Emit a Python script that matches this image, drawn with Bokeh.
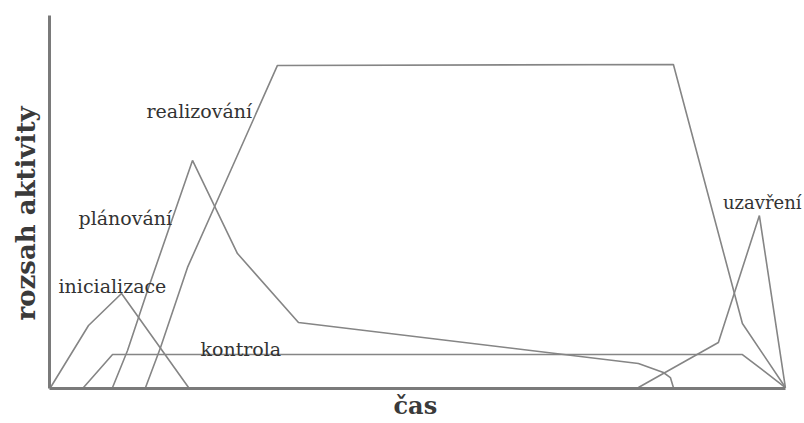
from bokeh.plotting import figure
from bokeh.models import Range1d, FixedTicker, Label, Title
from bokeh.embed import file_html
from bokeh.resources import INLINE

# ---- data (time on x, activity extent on y) ----
init_x = [0, 5.17, 9.66, 18.78]
init_y = [0, 19.25, 29.2, 0]

ctrl_x = [4.49, 8.44, 94.15, 100]
ctrl_y = [0, 10.25, 10.25, 0]

plan_x = [8.44, 10.48, 13.2, 19.32, 25.44, 33.74, 80.0, 83.4, 84.35, 84.76]
plan_y = [0, 11.5, 30.1, 70.5, 41.6, 20.2, 7.45, 4.66, 3.1, 0]

real_x = [12.93, 14.97, 18.64, 30.88, 84.76, 94.15, 100]
real_y = [0, 12.4, 37.3, 100, 100.3, 19.9, 0]

clos_x = [80.0, 90.88, 96.46, 100]
clos_y = [0, 14.0, 53.4, 0]

series = [
    ("inicializace", init_x, init_y),
    ("kontrola", ctrl_x, ctrl_y),
    ("plánování", plan_x, plan_y),
    ("realizování", real_x, real_y),
    ("uzavření", clos_x, clos_y),
]

# label anchors (left, baseline) in data units
label_x = {"realizování": 13.06, "plánování": 3.81, "inicializace": 1.09,
           "kontrola": 20.4, "uzavření": 91.5}
label_y = {"realizování": 86.0, "plánování": 52.5, "inicializace": 31.4,
           "kontrola": 12.1, "uzavření": 57.45}
label_size = {"realizování": "19px", "plánování": "19px", "inicializace": "19px",
              "kontrola": "19px", "uzavření": "18px"}

X_START, X_AXIS_END, X_END = -0.14, 100, 102.6
Y_START, Y_END = -0.3, 115.5

LINE = "#858585"
AXIS = "#7a7a7a"
TEXT = "#333333"
TITLE = "#3a3a3a"
SERIF = "DejaVu Serif"

p = figure(width=804, height=423, output_backend="svg", toolbar_location=None,
           x_range=Range1d(X_START, X_END), y_range=Range1d(Y_START, Y_END),
           min_border_left=49, min_border_right=0, min_border_top=15,
           min_border_bottom=35)
p.outline_line_color = None
p.xgrid.visible = False
p.ygrid.visible = False
p.background_fill_color = "white"
p.border_fill_color = "white"

for ax in (p.xaxis[0], p.yaxis[0]):
    ax.ticker = FixedTicker(ticks=[])
    ax.major_tick_line_color = None
    ax.minor_tick_line_color = None
    ax.axis_line_color = AXIS
    ax.axis_line_width = 3
p.xaxis[0].bounds = (X_START, X_AXIS_END)

# axis titles as side-panel titles so they can be offset like the original
p.add_layout(Title(text="rozsah aktivity", align="left", offset=68,
                   vertical_align="middle", standoff=15,
                   text_font=SERIF, text_font_style="bold",
                   text_font_size="26px", text_color=TITLE), "left")
p.add_layout(Title(text="čas", align="left", offset=344,
                   vertical_align="top", standoff=4,
                   text_font=SERIF, text_font_style="bold",
                   text_font_size="24px", text_color=TITLE), "below")

for name, xs, ys in series:
    p.line(xs, ys, line_color=LINE, line_width=1.6)
    p.add_layout(Label(x=label_x[name], y=label_y[name], text=name,
                       text_font=SERIF, text_font_size=label_size[name],
                       text_color=TEXT, text_align="left",
                       text_baseline="alphabetic"))

open("out.html", "w").write(file_html(p, INLINE))
